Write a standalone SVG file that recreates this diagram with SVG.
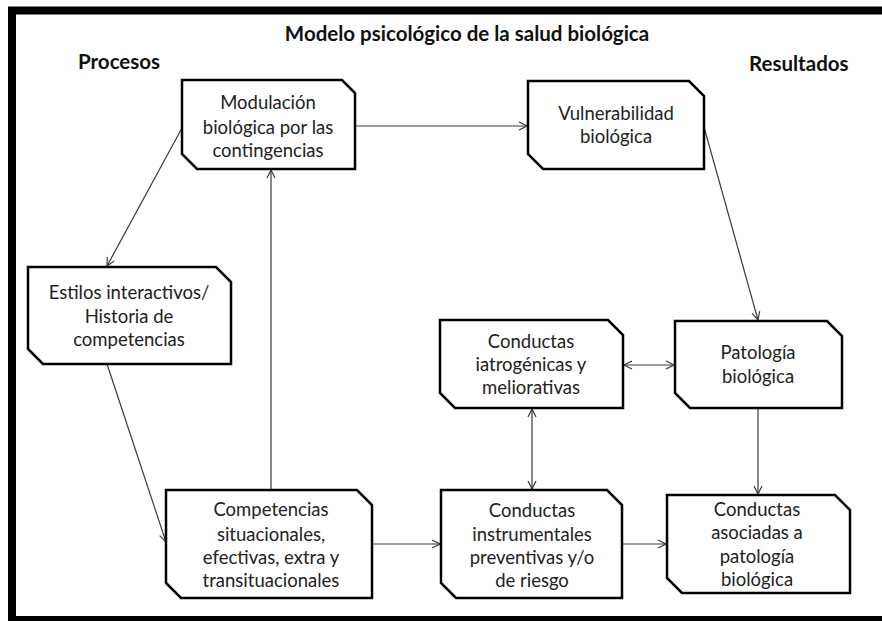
<svg xmlns="http://www.w3.org/2000/svg" width="882" height="621" viewBox="0 0 882 621">
  <defs>
    <style>
      .frame { fill: none; stroke: #000; stroke-width: 8; }
      .box { fill: #fff; stroke: #000; stroke-width: 2.5; stroke-linejoin: miter; }
      .lbl { font-family: Lato, "Open Sans", "Liberation Sans", sans-serif; font-size: 18.5px; fill: #222; text-anchor: middle; }
      .head { font-family: Lato, "Open Sans", "Liberation Sans", sans-serif; font-size: 20.5px; font-weight: bold; fill: #111; }
      .conn { fill: none; stroke: #3a3a3a; stroke-width: 1.2; }
    </style>
    <marker id="arr" viewBox="0 0 10 10" refX="9" refY="5" markerWidth="10" markerHeight="10" markerUnits="userSpaceOnUse" orient="auto-start-reverse">
      <path d="M1,1 L9,5 L1,9" fill="none" stroke="#3a3a3a" stroke-width="1.2"/>
    </marker>
  </defs>

  <rect x="0" y="0" width="882" height="621" fill="#fff"/>
  <!-- outer frame (runs off the right edge) -->
  <rect class="frame" x="12" y="10.5" width="880" height="609.5"/>

  <!-- headings -->
  <text class="head" x="467" y="41" text-anchor="middle">Modelo psicológico de la salud biológica</text>
  <text class="head" x="78" y="69">Procesos</text>
  <text class="head" x="749" y="71">Resultados</text>

  <!-- connectors -->
  <g id="connectors">
    <line class="conn" x1="356" y1="126" x2="527" y2="126" marker-end="url(#arr)"/>
    <line class="conn" x1="182" y1="128" x2="107" y2="266" marker-end="url(#arr)"/>
    <line class="conn" x1="107" y1="364" x2="166" y2="542" marker-end="url(#arr)"/>
    <line class="conn" x1="271" y1="490" x2="271" y2="170" marker-end="url(#arr)"/>
    <line class="conn" x1="372" y1="544" x2="440" y2="544" marker-end="url(#arr)"/>
    <line class="conn" x1="622" y1="544" x2="666" y2="544" marker-end="url(#arr)"/>
    <line class="conn" x1="704" y1="127" x2="758" y2="320" marker-end="url(#arr)"/>
    <line class="conn" x1="624" y1="365" x2="674" y2="365" marker-start="url(#arr)" marker-end="url(#arr)"/>
    <line class="conn" x1="532" y1="409" x2="532" y2="489" marker-start="url(#arr)" marker-end="url(#arr)"/>
    <line class="conn" x1="758" y1="408" x2="758" y2="494" marker-end="url(#arr)"/>
  </g>

  <!-- nodes: rectangles with snipped top-right and bottom-left corners -->
  <g id="modulacion">
    <path class="box" d="M182,80 H342 L355,93 V169 H197 L182,154 Z"/>
    <text class="lbl" x="268" y="109">Modulación</text>
    <text class="lbl" x="268" y="134">biológica por las</text>
    <text class="lbl" x="268" y="157">contingencias</text>
  </g>

  <g id="vulnerabilidad">
    <path class="box" d="M528,81 H689 L704,96 V169 H543 L528,154 Z"/>
    <text class="lbl" x="616" y="120">Vulnerabilidad</text>
    <text class="lbl" x="616" y="143">biológica</text>
  </g>

  <g id="estilos">
    <path class="box" d="M28,267 H216 L231,282 V364 H43 L28,349 Z"/>
    <text class="lbl" x="129" y="299">Estilos interactivos/</text>
    <text class="lbl" x="129" y="323">Historia de</text>
    <text class="lbl" x="129" y="346">competencias</text>
  </g>

  <g id="iatrogenicas">
    <path class="box" d="M440,320 H608 L623,335 V408 H455 L440,393 Z"/>
    <text class="lbl" x="531" y="348">Conductas</text>
    <text class="lbl" x="531" y="371">iatrogénicas y</text>
    <text class="lbl" x="531" y="394">meliorativas</text>
  </g>

  <g id="patologia">
    <path class="box" d="M675,321 H827 L842,336 V408 H690 L675,393 Z"/>
    <text class="lbl" x="758" y="359">Patología</text>
    <text class="lbl" x="758" y="383">biológica</text>
  </g>

  <g id="competencias">
    <path class="box" d="M166,490 H357 L372,505 V598 H181 L166,583 Z"/>
    <text class="lbl" x="271" y="516">Competencias</text>
    <text class="lbl" x="271" y="541">situacionales,</text>
    <text class="lbl" x="271" y="564">efectivas, extra y</text>
    <text class="lbl" x="271" y="587">transituacionales</text>
  </g>

  <g id="instrumentales">
    <path class="box" d="M441,490 H607 L622,505 V598 H456 L441,583 Z"/>
    <text class="lbl" x="532" y="517">Conductas</text>
    <text class="lbl" x="532" y="541">instrumentales</text>
    <text class="lbl" x="532" y="564">preventivas y/o</text>
    <text class="lbl" x="532" y="587">de riesgo</text>
  </g>

  <g id="asociadas">
    <path class="box" d="M667,495 H835 L850,510 V593 H682 L667,578 Z"/>
    <text class="lbl" x="757" y="516">Conductas</text>
    <text class="lbl" x="757" y="539">asociadas a</text>
    <text class="lbl" x="757" y="563">patología</text>
    <text class="lbl" x="757" y="586">biológica</text>
  </g>
</svg>
